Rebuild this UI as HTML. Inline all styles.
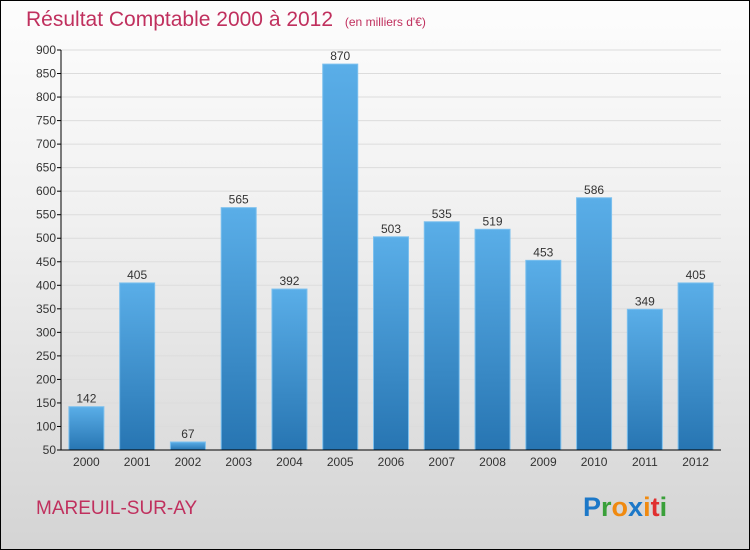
<!DOCTYPE html>
<html><head><meta charset="utf-8"><style>
body{margin:0}
#c{position:relative;width:750px;height:550px;box-sizing:border-box;border:1px solid #000;background:linear-gradient(#fdfdfd,#f0f0f0 40%,#d4d4d4);font-family:"Liberation Sans",sans-serif;overflow:hidden}
</style></head><body>
<div id="c">
<svg width="750" height="550" style="position:absolute;left:-1px;top:-1px">
<defs><linearGradient id="bg" x1="0" y1="0" x2="0" y2="1"><stop offset="0" stop-color="#5aaee8"/><stop offset="1" stop-color="#2775b2"/></linearGradient></defs>
<text x="26" y="26" font-size="21" fill="#c0305e">Résultat Comptable 2000 à 2012 <tspan font-size="12" dx="6">(en milliers d'€)</tspan></text>
<g id="grid"></g><g id="bars"></g><g id="axes"></g>
<text x="36" y="514" font-size="19" fill="#c0305e">MAREUIL-SUR-AY</text>
<text x="583" y="516" font-size="27" font-weight="bold"><tspan fill="#1c78c8">P</tspan><tspan fill="#3aa03a">r</tspan><tspan fill="#f08a10">o</tspan><tspan fill="#1c78c8">x</tspan><tspan fill="#f08a10">i</tspan><tspan fill="#e03030">t</tspan><tspan fill="#3aa03a">i</tspan></text>
</svg></div>
<script>
const years=["2000","2001","2002","2003","2004","2005","2006","2007","2008","2009","2010","2011","2012"];
const values=[142,405,67,565,392,870,503,535,519,453,586,349,405];
const yTicks=[50,100,150,200,250,300,350,400,450,500,550,600,650,700,750,800,850,900];
const NS="http://www.w3.org/2000/svg";
const x0=61,x1=721,yMin=50,yMax=900,py0=450,py1=50;
const band=(x1-x0)/years.length,bw=35;
const y=v=>py0-(v-yMin)/(yMax-yMin)*(py0-py1);
function mk(t,a,p){const e=document.createElementNS(NS,t);for(const k in a)e.setAttribute(k,a[k]);p.appendChild(e);return e;}
const g=document.getElementById('grid'),b=document.getElementById('bars'),ax=document.getElementById('axes');
yTicks.forEach(t=>{
 const l=mk('line',{x1:x0,x2:x1,y1:y(t),y2:y(t),stroke:'#dcdcdc','stroke-width':1},g);
 
 
 mk('line',{x1:x0-4,x2:x0,y1:y(t),y2:y(t),stroke:'#000'},ax);
 const tx=mk('text',{x:x0-5,y:y(t)+4,'text-anchor':'end','font-size':12,fill:'#333'},ax);
 tx.textContent=t;
 
 
});
years.forEach((yr,i)=>{
 const cx=x0+band*(i+0.5),v=values[i];
 const r=mk('rect',{x:cx-bw/2,y:y(v),width:bw,height:py0-y(v),fill:'url(#bg)',stroke:'#7cc0ee','stroke-width':1},b);
 
 
 const vl=mk('text',{x:cx,y:y(v)-4,'text-anchor':'middle','font-size':12,fill:'#333'},b);
 vl.textContent=v;
 
 
 const xl=mk('text',{x:cx,y:466,'text-anchor':'middle','font-size':12,fill:'#333'},ax);
 xl.textContent=yr;
 
 
});
const ya=mk('line',{x1:x0,x2:x0,y1:py1,y2:py0,stroke:'#000'},ax);


const xa=mk('line',{x1:x0,x2:x1,y1:py0,y2:py0,stroke:'#000'},ax);


</script>
</body></html>
